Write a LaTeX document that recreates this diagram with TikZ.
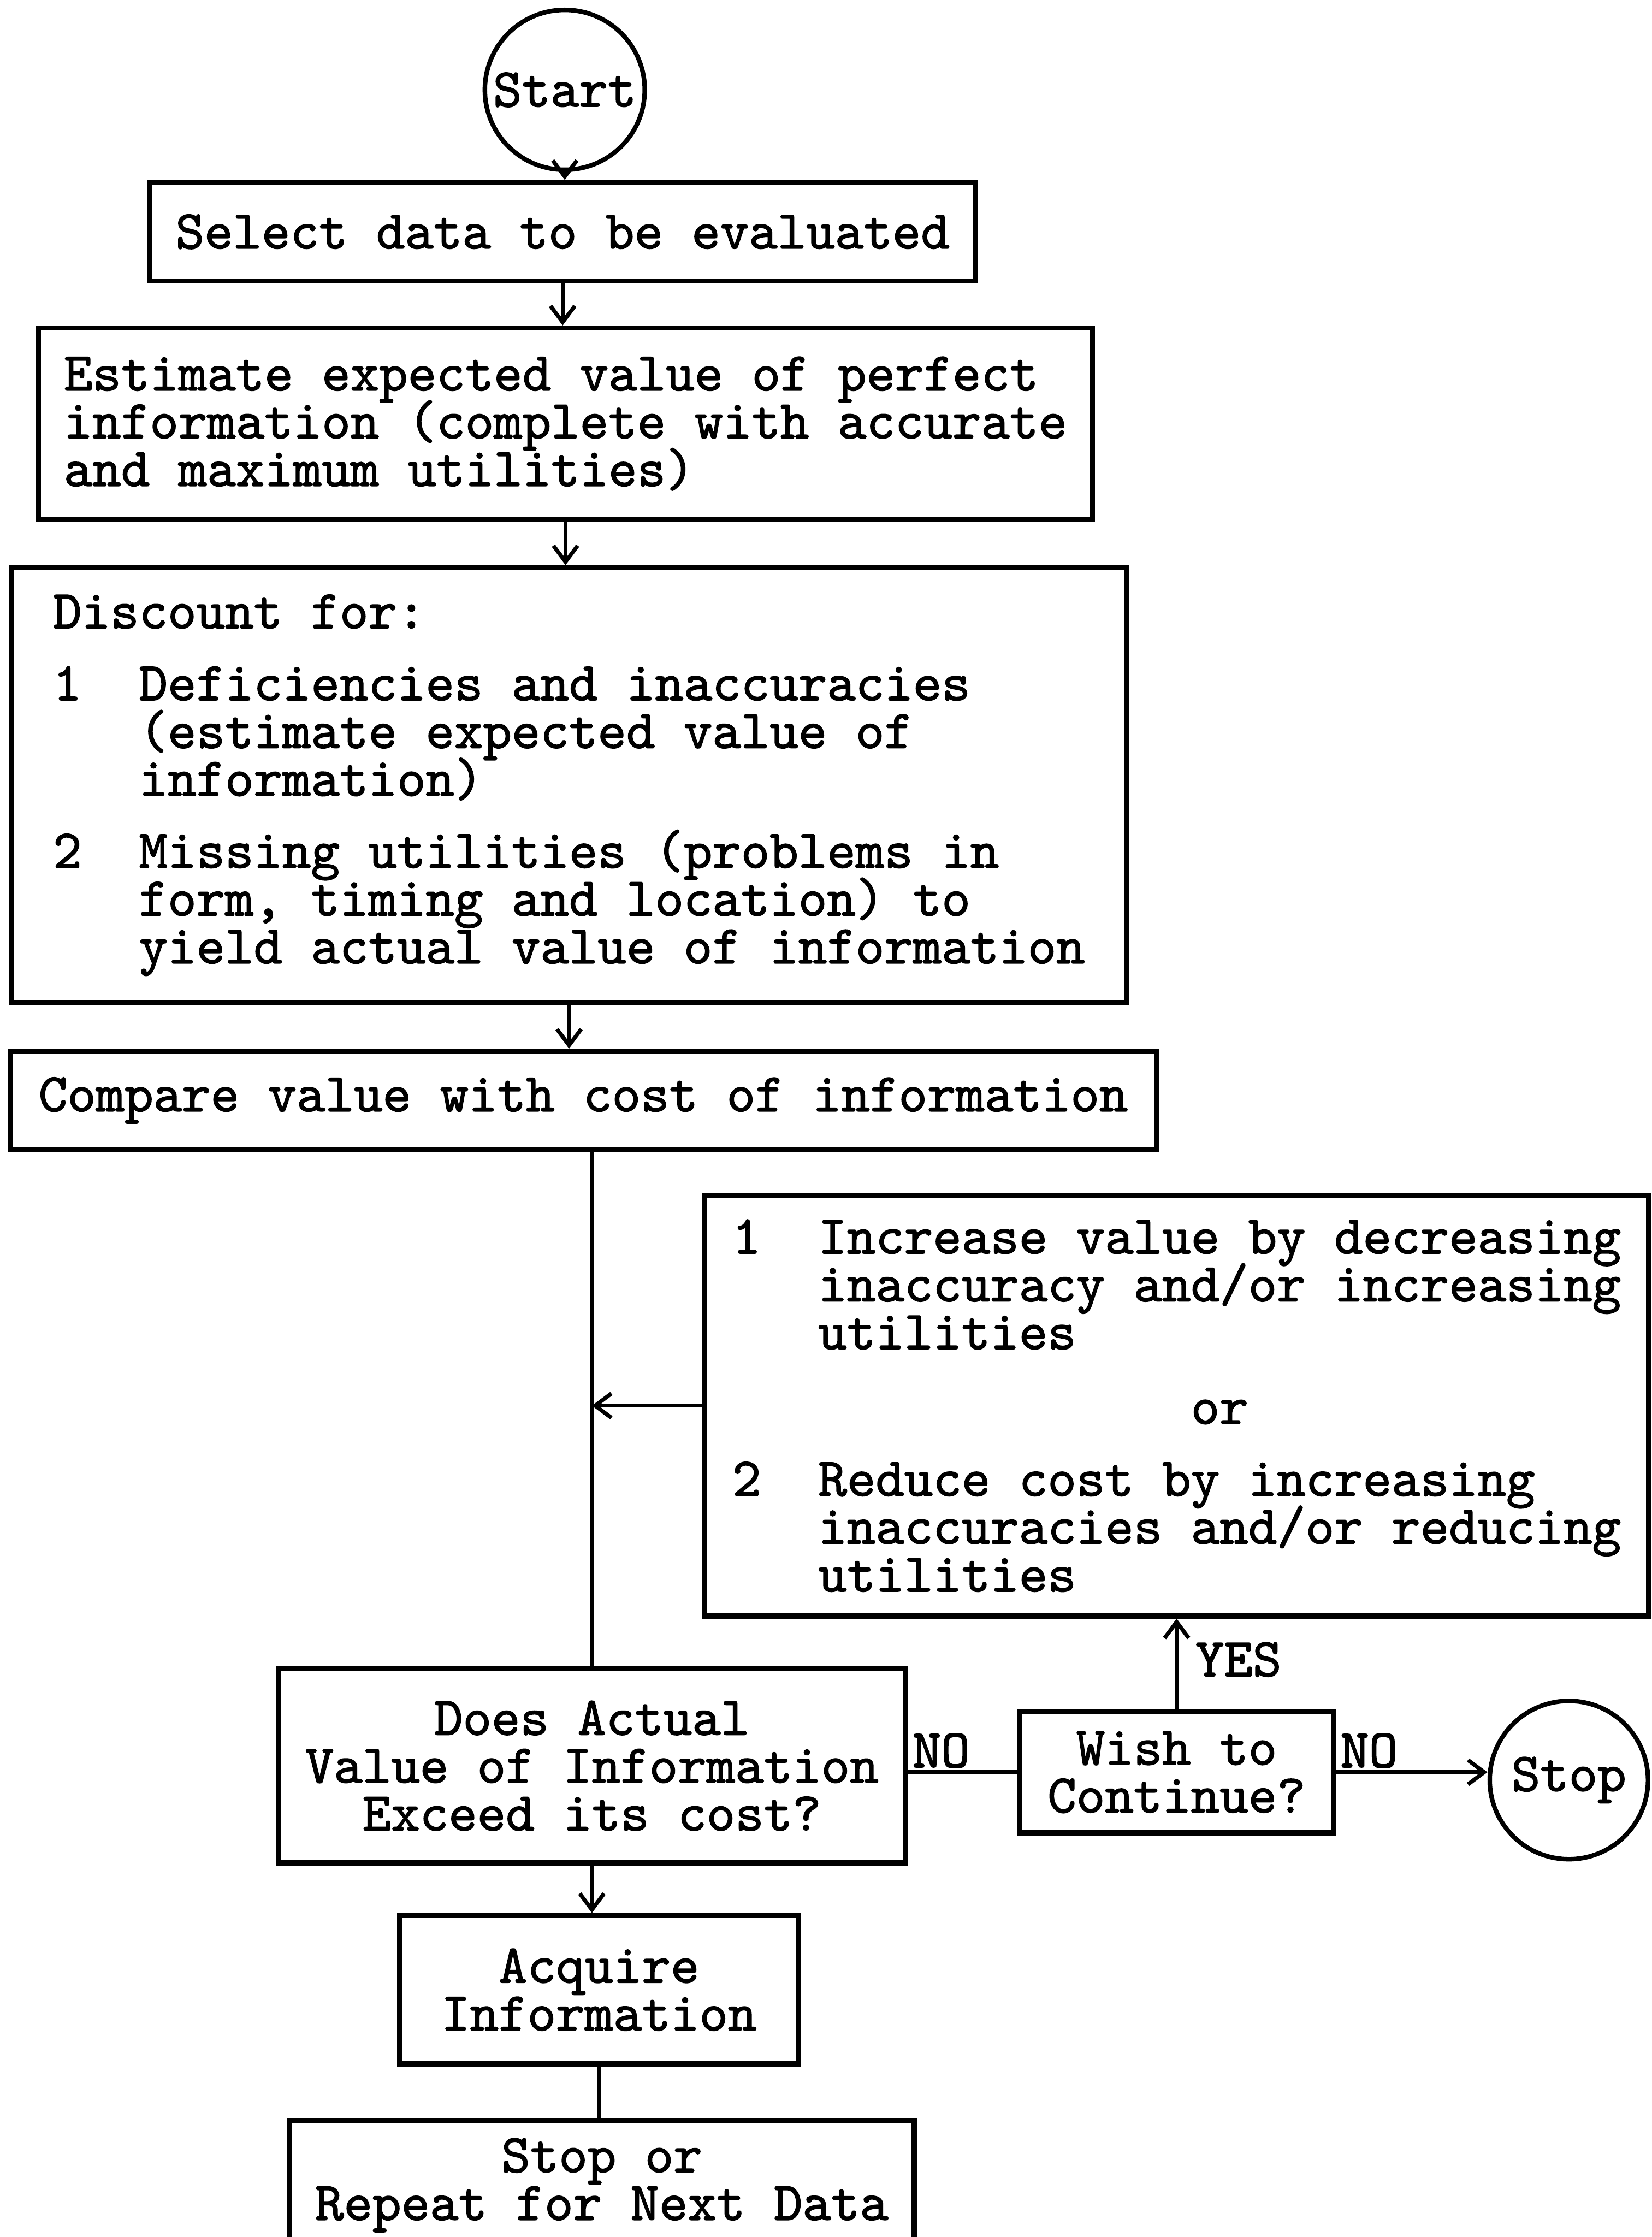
\documentclass[tikz,border=0pt]{standalone}
\usepackage{fontspec}
\usetikzlibrary{arrows.meta}
% typewriter face used throughout the chart, with an even line pitch
\newfontfamily\chartface{lmmono10-regular.otf}[FakeBold=1.6]
\newcommand\chartfont{\chartface\fontsize{48.1pt}{42.1pt}\selectfont
  \lineskiplimit=-100pt\lineskip=0pt}
% hanging indent of three character cells
\newcommand\ind{\hspace*{1.575em}}
\begin{document}
\begin{tikzpicture}[x=0.04416cm, y=-0.04416cm,
  box/.style={draw, line width=4.5pt, inner sep=0pt, font=\chartfont},
  term/.style={draw, circle, line width=4pt, inner sep=0pt, minimum size=4.95cm, font=\chartfont},
  flow/.style={line width=3.5pt},
  arr/.style={flow, -{Straight Barb[length=0.5cm, width=0.75cm]}},
  tag/.style={font=\chartfont, inner sep=2pt}]

\clip (0,0) rectangle (1158.06,1568.39);
\fill[white] (0,0) rectangle (1158.06,1568.39);

% main column
\node[term] (start) at (396,63) {Start};
\node[box, minimum width=25.57cm, minimum height=3.05cm] (select) at (394.5,162.5)
  {Select data to be evaluated};
\node[box, align=left, minimum width=32.63cm, minimum height=5.92cm] (estimate) at (396.5,297)
  {Estimate expected value of perfect\\
   information (complete with accurate\\
   and maximum utilities)};
\node[box, align=left, minimum width=34.53cm, minimum height=13.47cm] (discount) at (399,550.5)
  {Discount for:\\[21.3pt]
   1\ \ Deficiencies and inaccuracies\\
   \ind(estimate expected value of\\
   \ind information)\\[21.3pt]
   2\ \ Missing utilities (problems in\\
   \ind form, timing and location) to\\
   \ind yield actual value of information};
\node[box, minimum width=35.50cm, minimum height=3.05cm] (compare) at (409,771.5)
  {Compare value with cost of information};

% improvement options
\node[box, align=left, minimum width=29.23cm, minimum height=13.03cm] (options) at (825,985.5)
  {1\ \ Increase value by decreasing\\
   \ind inaccuracy and/or increasing\\
   \ind utilities\\[23.8pt]
   \hspace*{8.4em}or\\[21.3pt]
   2\ \ Reduce cost by increasing\\
   \ind inaccuracies and/or reducing\\
   \ind utilities};

% decision and ending
\node[box, align=center, minimum width=19.43cm, minimum height=6.01cm] (decide) at (415,1238)
  {Does Actual\\Value of Information\\Exceed its cost?};
\node[box, align=center, minimum width=9.72cm, minimum height=3.75cm] (wish) at (825,1242.5)
  {Wish to\\Continue?};
\node[term, minimum size=4.90cm] (stop) at (1100,1248) {Stop};
\node[box, align=center, minimum width=12.36cm, minimum height=4.59cm] (acquire) at (420,1395)
  {Acquire\\Information};
\node[box, align=center, minimum width=19.34cm, minimum height=3.97cm] (repeat) at (422,1532)
  {Stop or\\Repeat for Next Data};

% connectors
\draw[arr] (start.south) -- (start.south |- select.north);
\draw[arr] (select.south) -- (select.south |- estimate.north);
\draw[arr] (estimate.south) -- (estimate.south |- discount.north);
\draw[arr] (discount.south) -- (discount.south |- compare.north);
\draw[flow] (decide.north |- compare.south) -- (decide.north);
\draw[arr] (options.west) -- (options.west -| decide.north);
\draw[flow] (decide.east |- wish.west) -- (wish.west)
  node[tag, pos=0, anchor=south west] (no1) {NO};
\draw[arr] (wish.north) -- (wish.north |- options.south)
  node[tag, pos=1, anchor=north west, xshift=0.45cm, yshift=-0.6cm] (yes) {YES};
\draw[arr] (wish.east) -- (wish.east -| stop.west)
  node[tag, pos=0, anchor=south west] (no2) {NO};
\draw[arr] (decide.south) -- (decide.south |- acquire.north);
\draw[flow] (acquire.south) -- (acquire.south |- repeat.north);
\end{tikzpicture}
\end{document}
